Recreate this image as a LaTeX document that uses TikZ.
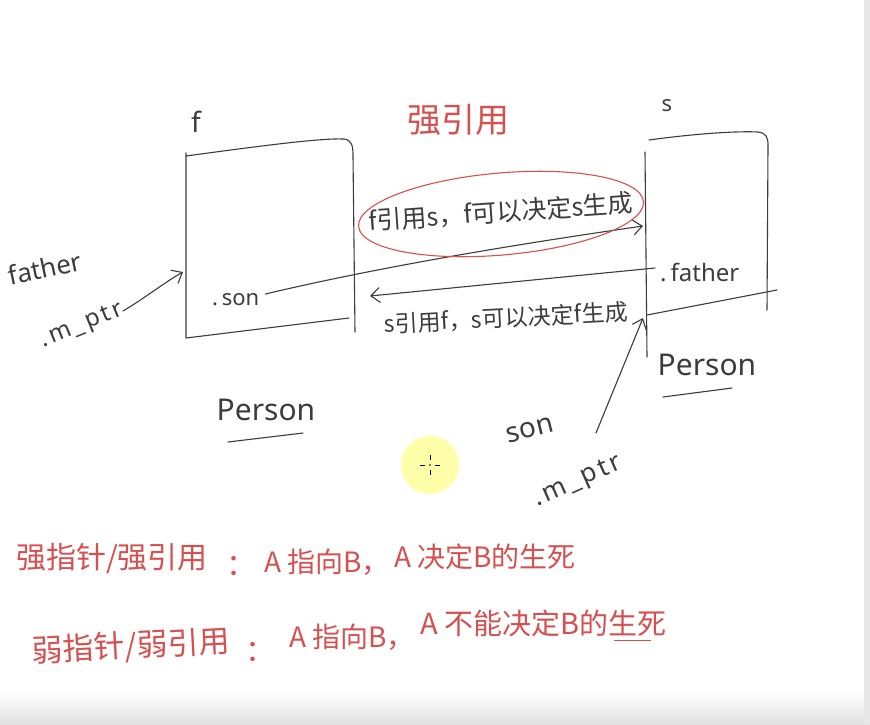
\documentclass[tikz,border=0pt]{standalone}
\usepackage{fontspec}
\setmainfont{Noto Sans}
\newfontfamily\spaced[LetterSpace=12]{Noto Sans}
\newfontfamily\cjk{Noto Sans CJK SC}
\usetikzlibrary{arrows.meta}
\definecolor{ink}{RGB}{60,60,60}
\definecolor{redink}{RGB}{215,80,80}
\definecolor{cursorfill}{RGB}{255,255,170}
\begin{document}
\begin{tikzpicture}[x=1pt,y=-1pt,
  inkline/.style={draw=ink,line width=1.1pt,line cap=round,line join=round},
  redline/.style={draw=redink,line width=1.1pt,line cap=round},
  tipped/.style={-{Straight Barb[length=9pt,width=15pt,line width=1.1pt]}},
  lbl/.style={text=ink,inner sep=0pt,font=\fontsize{#1}{#1}\selectfont},
  slbl/.style={text=ink,inner sep=0pt,font=\spaced\fontsize{#1}{#1}\selectfont},
  cn/.style={text=ink,inner sep=0pt,font=\cjk\fontsize{#1}{#1}\selectfont},
  rcn/.style={text=redink,inner sep=0pt,font=\cjk\fontsize{#1}{#1}\selectfont},
]
\useasboundingbox (0,0) rectangle (870,724);
\fill[white] (0,0) rectangle (870,724);
\shade[top color=white,bottom color=black!12] (0,692) rectangle (870,724);
\fill[black!9] (864,0) rectangle (870,724);

% ---- left box f
\draw[inkline] (186,153) -- (186,338) -- (349,318);
\draw[inkline] (186,156) .. controls (260,146) and (320,138) .. (344,139)
  .. controls (352,140) and (353,146) .. (353,156) -- (355,332);
\node[lbl=28] (fl) at (196,122) {f};
\node[lbl=22,anchor=west] (son) at (212,300) {.\,son};
\node[lbl=30] (pl) at (266,410) {Person};
\draw[inkline] (228,442) -- (303,433);

% ---- right box s
\draw[inkline] (645,152) -- (647,357);
\draw[inkline] (649,140) .. controls (700,133) and (740,131) .. (758,132)
  .. controls (767,133) and (768,138) .. (768,146) -- (767,310);
\draw[inkline] (647,315) -- (777,290);
\node[lbl=22] (sl) at (667,106) {s};
\node[lbl=24,anchor=west] (fa) at (660,272) {.\,father};
\node[lbl=30] (pr) at (707,365) {Person};
\draw[inkline] (663,397) -- (732,388);

% ---- title
\node[rcn=34] (title) at (458,120) {强引用};

% ---- f -> s
\coordinate (sEntry) at (643,226);
\draw[inkline,tipped] (son.east) ++(6,-6) .. controls (400,262) and (560,238) .. (sEntry);
\draw[redline,rotate around={5:(501,214)}] (501,214) ellipse [x radius=143, y radius=41];
\node[cn=25,rotate=4] (t1) at (501,212) {f引用s，f可以决定s生成};

% ---- s -> f
\coordinate (sExit) at (655,268);
\coordinate (fEntry) at (370,296);
\draw[inkline,tipped] (sExit) -- (fEntry);
\node[cn=23,rotate=3] (t2) at (506,318) {s引用f，s可以决定f生成};

% ---- father.m_ptr
\node[lbl=26,rotate=12] (father) at (45,268) {father};
\node[slbl=24,rotate=22] (mp1) at (82,326) {.m\_ptr};
\coordinate (fIn) at (183,272);
\draw[inkline,tipped] (123,311) .. controls (145,298) and (165,282) .. (fIn);

% ---- son.m_ptr
\node[lbl=28,rotate=14] (sonp) at (530,430) {son};
\node[slbl=26,rotate=24] (mp2) at (578,482) {.m\_ptr};
\coordinate (sIn) at (643,318);
\draw[inkline,tipped] (596,433) -- (sIn);

% ---- cursor
\fill[cursorfill] (430,465) circle [radius=29];
\draw[black,line width=0.9pt] (420,465) -- (425,465) (435,465) -- (440,465)
  (430,455) -- (430,460) (430,470) -- (430,475);
\fill[black] (430,465) circle [radius=0.8];

% ---- bottom notes
\node[rcn=30,anchor=west] (n1a) at (16,559) {强指针/强引用};
\node[rcn=30] (n1b) at (241,566) {：};
\node[rcn=28,anchor=west] (n1c) at (264,562) {A 指向B，};
\node[rcn=28,anchor=west] (n1d) at (394,557) {A 决定B的生死};
\node[rcn=31,anchor=west,rotate=3] (n2a) at (32,652) {弱指针/弱引用};
\node[rcn=30] (n2b) at (260,652) {：};
\node[rcn=28,anchor=west] (n2c) at (289,637) {A 指向B，};
\node[rcn=29,anchor=west] (n2d) at (420,623) {A 不能决定B的生死};
\coordinate (ulA) at ([xshift=-52pt,yshift=-4pt]n2d.south east);
\coordinate (ulB) at ([xshift=-16pt,yshift=-4pt]n2d.south east);
\draw[redline] (ulA) -- (ulB);
\end{tikzpicture}
\end{document}
